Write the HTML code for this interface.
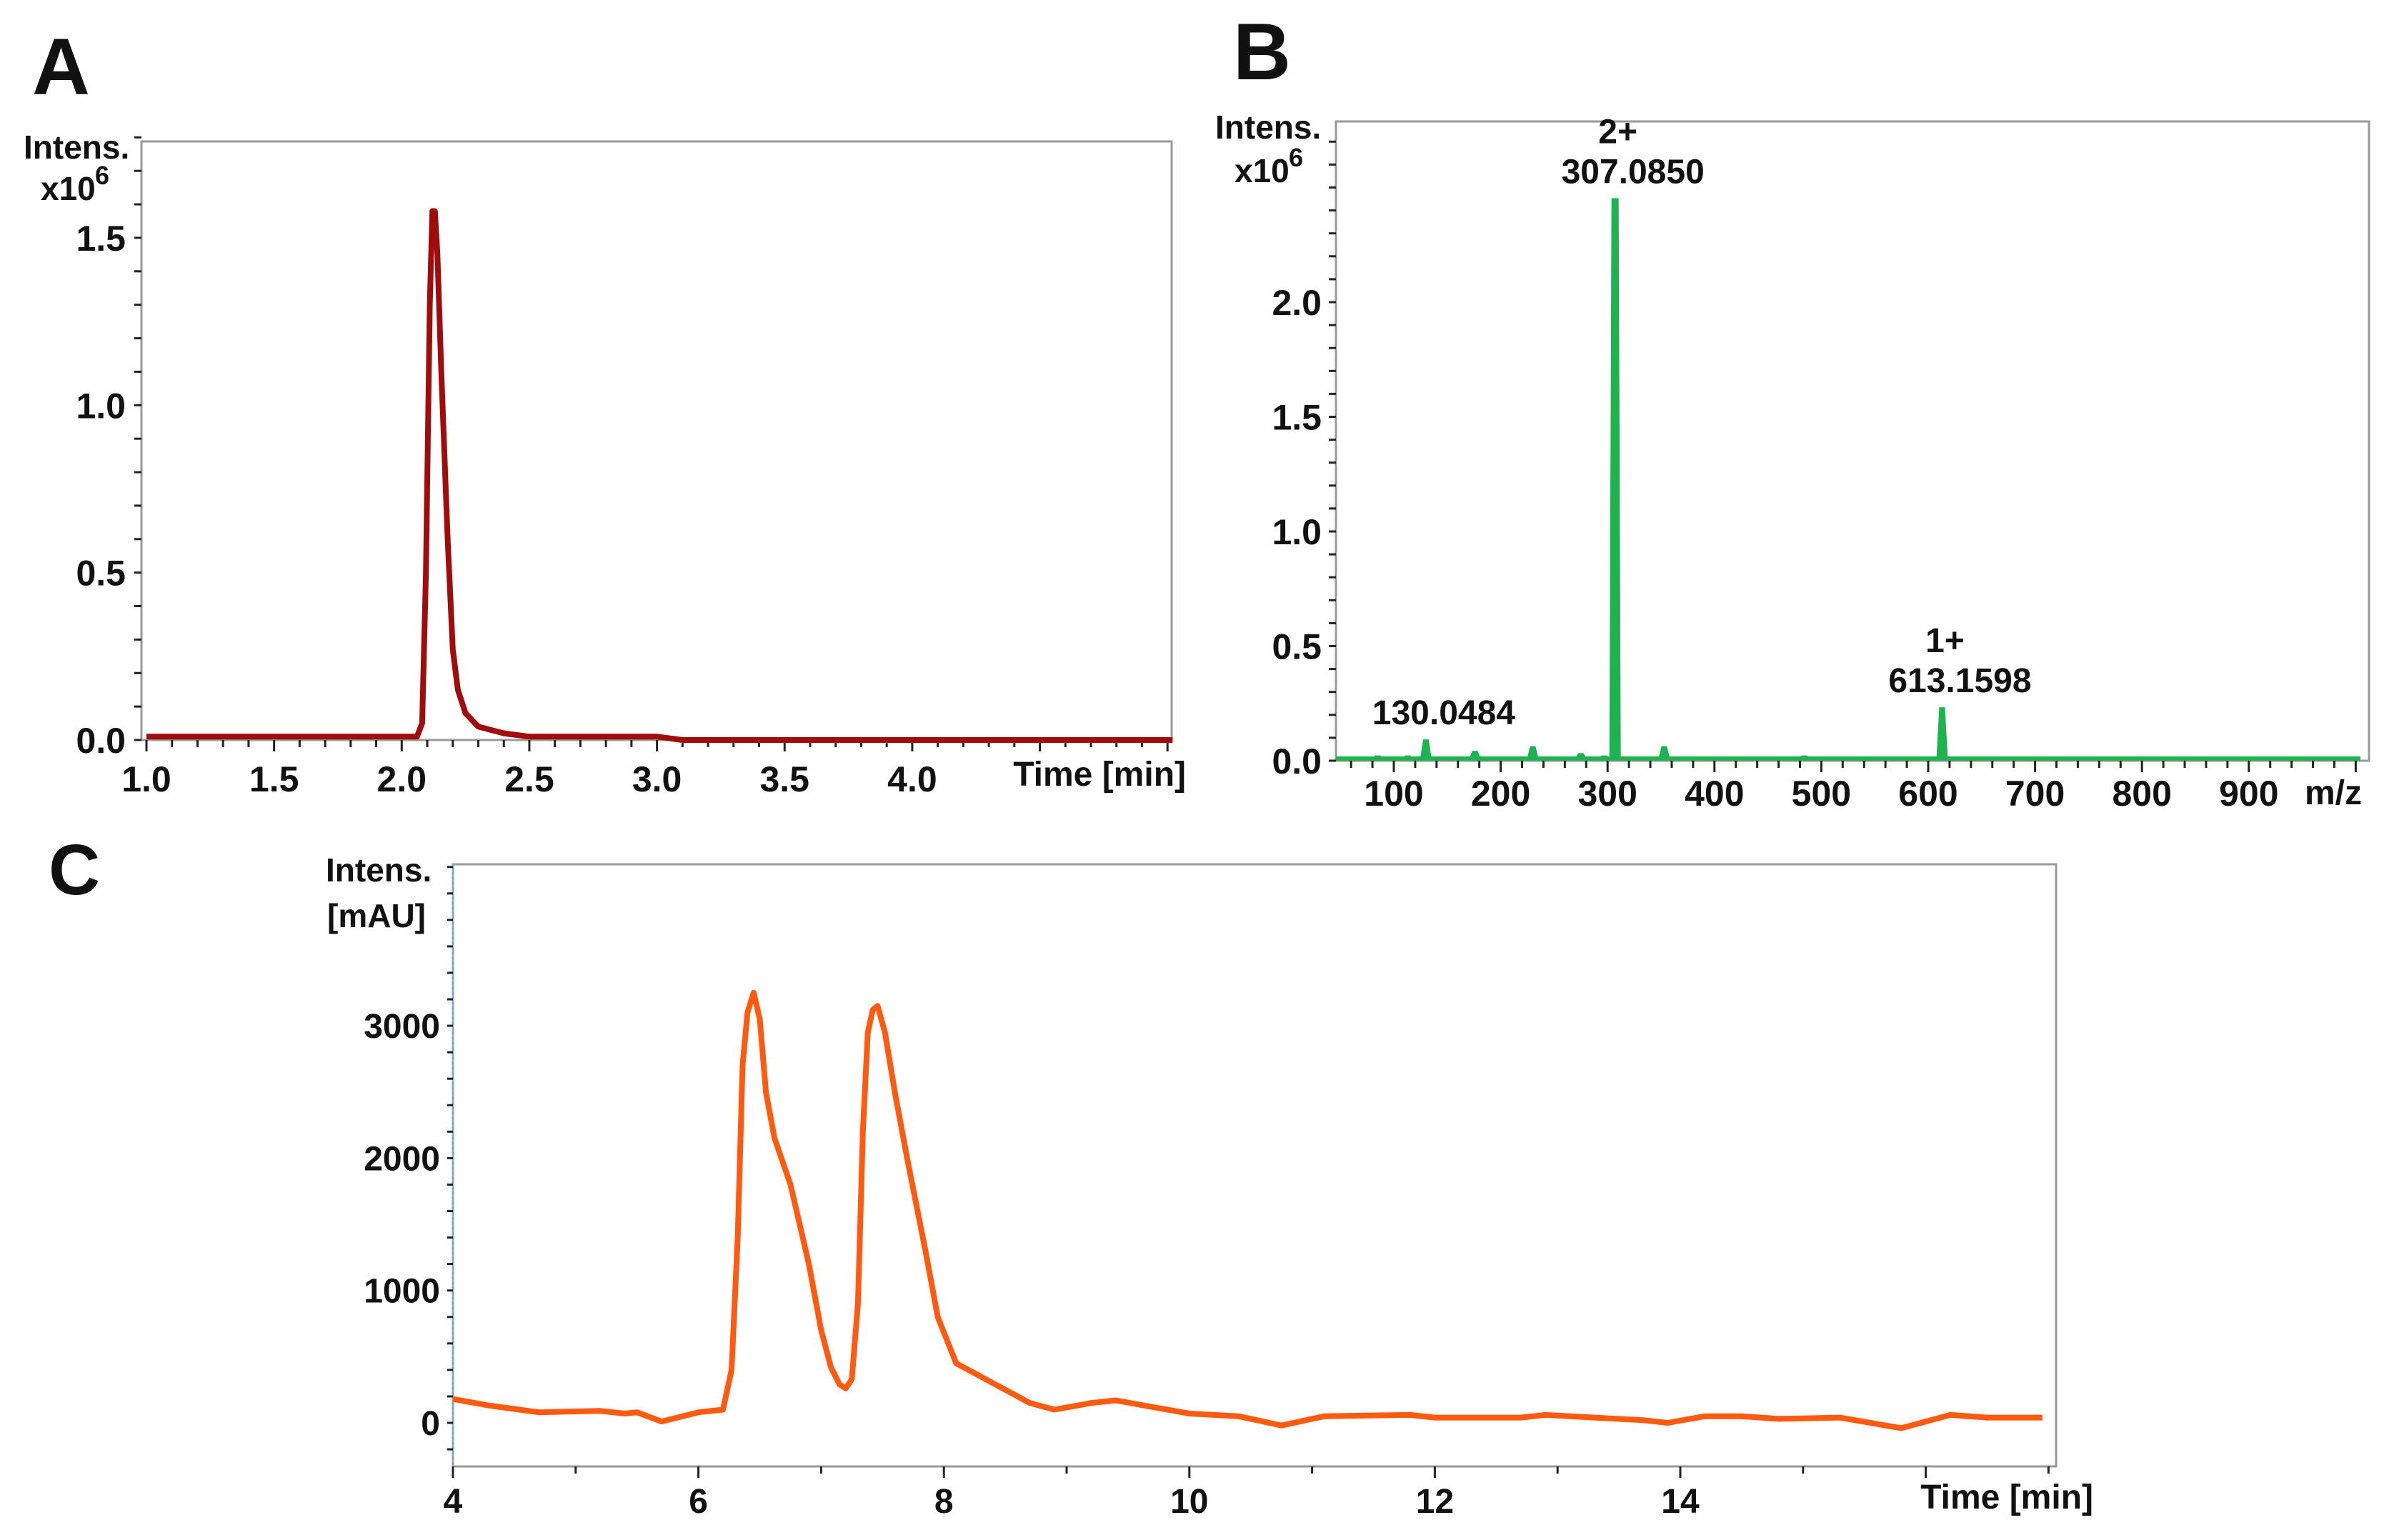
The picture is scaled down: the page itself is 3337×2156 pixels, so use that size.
<!DOCTYPE html>
<html><head><meta charset="utf-8"><style>
html,body{margin:0;padding:0;background:#fff}
svg{display:block}
text{font-family:"Liberation Sans",Arial,sans-serif;font-weight:bold;fill:#111}
</style></head><body>
<svg id="fig" width="3337" height="2156" viewBox="0 0 3337 2156" xmlns="http://www.w3.org/2000/svg">
<rect width="3337" height="2156" fill="#fff"/>
<text x="45" y="132" font-size="112">A</text>
<text x="1726" y="111" font-size="112">B</text>
<text x="68" y="1252" font-size="100">C</text>
<g id="gA"></g>
<g id="gB"></g>
<g id="gC"></g>
</svg>
<script>
// Panel A: extracted ion chromatogram
const timeA = [1.0,2.06,2.08,2.095,2.11,2.12,2.13,2.14,2.155,2.18,2.2,2.22,2.25,2.3,2.4,2.5,3.0,3.1,5.02];
const intensA = [0.01,0.01,0.05,0.5,1.3,1.58,1.58,1.45,1.1,0.6,0.27,0.15,0.08,0.04,0.02,0.01,0.01,0.0,0.0];
const xTicksA = ["1.0","1.5","2.0","2.5","3.0","3.5","4.0"];
const yTicksA = ["0.0","0.5","1.0","1.5"];
// Panel B: mass spectrum
const mzB = [85,97,113,130,176,195,210,230,245,262,275,297,307,353,408,484,613];
const intensB = [0.02,0.01,0.02,0.09,0.04,0.01,0.01,0.06,0.01,0.01,0.03,0.02,2.45,0.06,0.01,0.02,0.23];
const xTicksB = ["100","200","300","400","500","600","700","800","900"];
const yTicksB = ["0.0","0.5","1.0","1.5","2.0"];
const peakLabelsB = [["2+","307.0850",307,2.45],["","130.0484",130,0.09],["1+","613.1598",613,0.23]];
// Panel C: UV chromatogram
const timeC = [4.0,4.3,4.7,5.2,5.4,5.5,5.7,6.0,6.2,6.27,6.32,6.36,6.4,6.45,6.5,6.55,6.62,6.75,6.9,7.0,7.08,7.15,7.2,7.25,7.3,7.34,7.38,7.42,7.46,7.52,7.6,7.7,7.85,7.95,8.1,8.4,8.7,8.9,9.2,9.4,9.7,10.0,10.4,10.75,11.1,11.8,12.0,12.7,12.9,13.3,13.7,13.9,14.2,14.5,14.8,15.3,15.8,16.2,16.5,16.95];
const intensC = [180,130,80,90,70,80,10,80,100,400,1400,2700,3100,3250,3050,2500,2150,1800,1200,700,420,290,260,330,900,2200,2950,3120,3150,2950,2500,2000,1300,800,450,300,150,100,150,170,120,70,50,-20,50,60,40,40,60,40,20,0,50,50,30,40,-40,60,40,40];
const xTicksC = ["4","6","8","10","12","14"];
const yTicksC = ["0","1000","2000","3000"];

const NS="http://www.w3.org/2000/svg";
function mk(g,tag,attrs){const e=document.createElementNS(NS,tag);for(const k in attrs)e.setAttribute(k,attrs[k]);g.appendChild(e);return e;}
function txt(g,x,y,s,size,anchor){const t=mk(g,'text',{x:x,y:y,'font-size':size,'text-anchor':anchor||'middle'});t.textContent=s;return t;}

function frame(g,l,t,r,b,name){
  const f=mk(g,'rect',{x:l,y:t,width:r-l,height:b-t,fill:'none',stroke:'#9a9a9a','stroke-width':3});
  
  
}

// ---------- Panel A ----------
(function(){
  const g=document.getElementById('gA');
  const L=198,T=198,R=1640,B=1036;
  const sx=v=>205+(v-1.0)*357.3, sy=v=>B-v*468.7;
  frame(g,L,T,R,B,'panel-a-plot-frame');
  for(let v=1.0;v<=5.001;v+=0.1){const x=sx(v);const major=Math.abs(v*2-Math.round(v*2))<1e-6;
    const tk=mk(g,'line',{x1:x,y1:B,x2:x,y2:B+(major?16:10),stroke:'#222','stroke-width':3});
    
    }
  xTicksA.forEach(s=>{const t=txt(g,sx(+s),1108,s,50);
    
    });
  const tt=txt(g,1660,1100,'Time [min]',48,'end');
  
  
  for(let v=0;v<=1.801;v+=0.1){const y=sy(v);
    const tk=mk(g,'line',{x1:L,y1:y,x2:L-10,y2:y,stroke:'#222','stroke-width':3});
    
    }
  yTicksA.forEach(s=>{const t=txt(g,176,sy(+s)+18,s,50,'end');
    
    });
  const y1=txt(g,33,222,'Intens.',46,'start');
  
  
  const y2=txt(g,57,280,'x10',46,'start');
  
  
  txt(g,133,258,'6',36,'start');
  const d=timeA.map((v,i)=>(i?'L':'M')+sx(Math.max(v,0.98)).toFixed(1)+','+sy(intensA[i]).toFixed(1)).join(' ');
  const p=mk(g,'path',{d:d,fill:'none',stroke:'#a00c0c','stroke-width':8,'stroke-linejoin':'round'});
  
  
})();

// ---------- Panel B ----------
(function(){
  const g=document.getElementById('gB');
  const L=1870,T=170,R=3316,B=1065;
  const sx=v=>1951+(v-100)*1.496, sy=v=>B-v*321;
  frame(g,L,T,R,B,'panel-b-plot-frame');
  for(let v=60;v<=1000;v+=20){const x=sx(v);const major=v%100===0;
    const tk=mk(g,'line',{x1:x,y1:B,x2:x,y2:B+(major?16:10),stroke:'#222','stroke-width':3});
    
    }
  xTicksB.forEach(s=>{const t=txt(g,sx(+s),1128,s,50);
    
    });
  const mt=txt(g,3306,1126,'m/z',48,'end');
  
  
  for(let v=0;v<=2.701;v+=0.1){const y=sy(v);
    const tk=mk(g,'line',{x1:L,y1:y,x2:L-10,y2:y,stroke:'#222','stroke-width':3});
    
    }
  yTicksB.forEach(s=>{const t=txt(g,1850,sy(+s)+18,s,50,'end');
    
    });
  const y1=txt(g,1701,194,'Intens.',46,'start');
  
  
  const y2=txt(g,1728,255,'x10',46,'start');
  
  
  txt(g,1804,233,'6',36,'start');
  const base=mk(g,'line',{x1:L,y1:sy(0)-3,x2:R-12,y2:sy(0)-3,stroke:'#1db34e','stroke-width':6});
  
  
  mzB.forEach((m,i)=>{const x=sx(m);const w=m===307?4:3;
    const p=mk(g,'path',{d:`M${x-7},${sy(0)-3} L${x-w},${sy(intensB[i])} L${x+w},${sy(intensB[i])} L${x+7},${sy(0)-3} Z`,fill:'#1db34e',stroke:'#1db34e','stroke-width':2});
    
    });
  peakLabelsB.forEach(a=>{const x=sx(a[2]), y=sy(a[3]);
    if(a[0]){const c=txt(g,x+4,y-78,a[0],48);
      
      }
    const t=txt(g,x+25,y-22,a[1],48);
    
    });
})();

// ---------- Panel C ----------
(function(){
  const g=document.getElementById('gC');
  const L=634,T=1210,R=2878,B=2053;
  const sx=v=>634+(v-4)*171.8, sy=v=>1992-v*0.1853;
  frame(g,L,T,R,B,'panel-c-plot-frame');
  const ax=mk(g,'line',{x1:L,y1:T,x2:L,y2:B,stroke:'#7fb0d8','stroke-width':3,'stroke-dasharray':'4 3'});
  
  
  for(let v=4;v<=17;v+=1){const x=sx(v);
    const tk=mk(g,'line',{x1:x,y1:B,x2:x,y2:B+(v%2===0?16:10),stroke:'#222','stroke-width':3});
    
    }
  xTicksC.forEach(s=>{const t=txt(g,sx(+s),2118,s,48);
    
    });
  const tt=txt(g,2930,2112,'Time [min]',48,'end');
  
  
  for(let v=-200;v<=4200;v+=200){const y=sy(v);
    const tk=mk(g,'line',{x1:L,y1:y,x2:L-8,y2:y,stroke:'#222','stroke-width':3});
    
    }
  yTicksC.forEach(s=>{const t=txt(g,616,sy(+s)+17,s,48,'end');
    
    });
  const y1=txt(g,456,1234,'Intens.',46,'start');
  
  
  const y2=txt(g,458,1298,'[mAU]',46,'start');
  
  
  const d=timeC.map((v,i)=>(i?'L':'M')+sx(v).toFixed(1)+','+sy(intensC[i]).toFixed(1)).join(' ');
  const p=mk(g,'path',{d:d,fill:'none',stroke:'#ff5a0f','stroke-width':8,'stroke-linejoin':'round'});
  
  
})();
</script>
</body></html>
